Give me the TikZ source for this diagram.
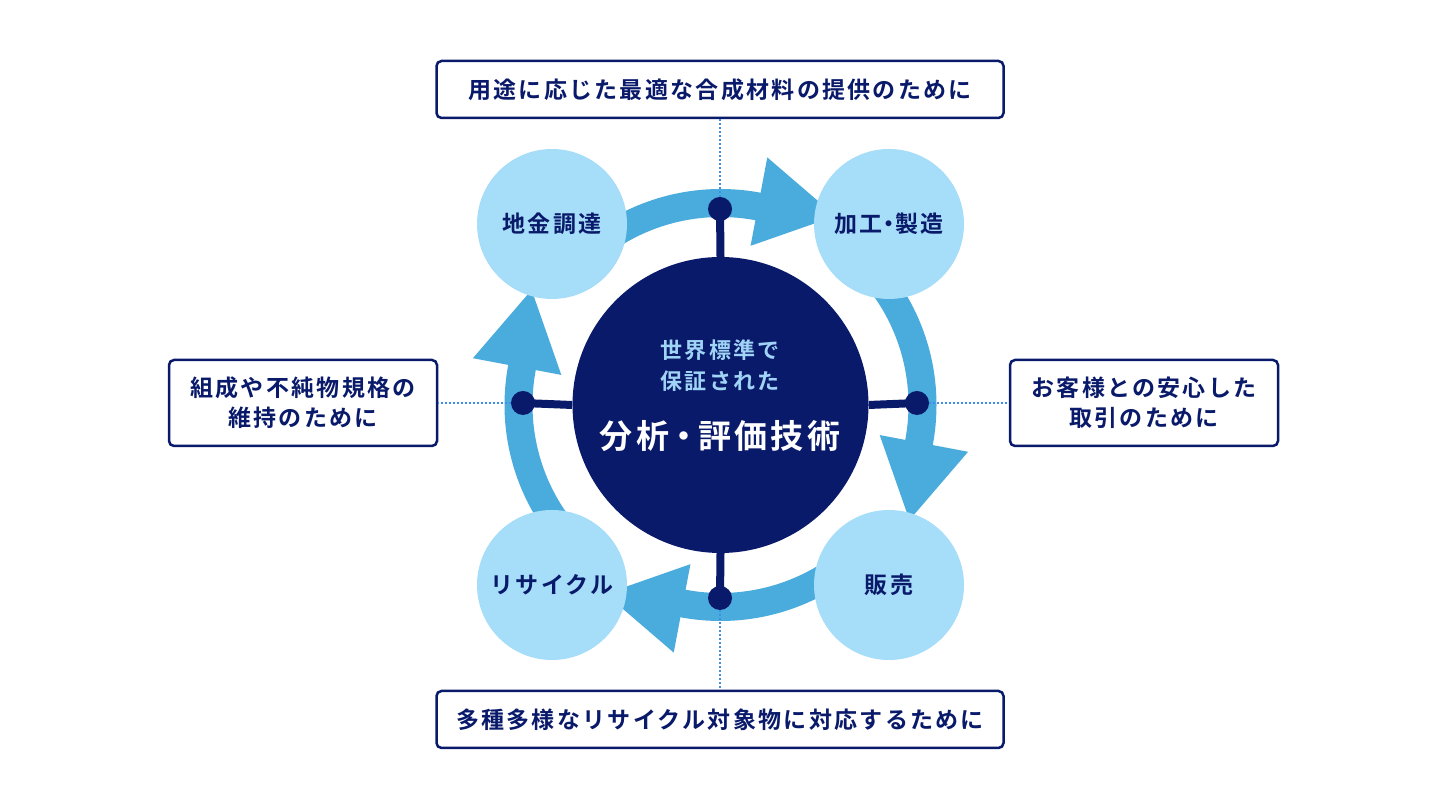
\documentclass[tikz,border=0pt]{standalone}
\usepackage{fontspec}
\newfontfamily\jpfont{Noto Sans CJK JP Bold}[LetterSpace=10]
\usetikzlibrary{arrows.meta, positioning, calc}
\definecolor{navy}{HTML}{0A1A6A}
\definecolor{ringblue}{HTML}{4AABDD}
\definecolor{paleblue}{HTML}{A6DDF9}
\definecolor{dotblue}{HTML}{3D8EE6}
\definecolor{subtext}{HTML}{9FD4F6}

\begin{document}
\begin{tikzpicture}[
  x=1pt, y=1pt,
  every node/.style={font=\jpfont\fontsize{23}{30}\selectfont, text=navy, align=center},
  corenode/.style={circle, fill=navy, minimum size=296pt, inner sep=0pt},
  phasenode/.style={circle, fill=paleblue, minimum size=150pt, inner sep=0pt},
  notebox/.style={rectangle, draw=navy, line width=2.5pt, rounded corners=5pt, fill=white, inner sep=0pt},
  hubdot/.style={circle, fill=navy, minimum size=24pt, inner sep=0pt},
  ringarc/.style={ringblue, line width=28pt},
  stem/.style={navy, line width=8pt},
  dotline/.style={dotblue, line width=2pt, dash pattern=on 2pt off 2pt}
]
\useasboundingbox (0,0) rectangle (1440,810);

% Ring arrows
\coordinate (mid) at (720.5,405);
\foreach \a in {0,90,180,270}{
  \draw[ringarc] ($(mid)+(132-\a:202)$) arc[start angle=132-\a, end angle=78-\a, radius=202];
  \fill[ringblue] ($(mid)+(79.3-\a:252)$) -- ($(mid)+(79.3-\a:162)$)
    -- ($(mid)+(79.3-\a:207)+(-10.7-\a:78)$) -- cycle;
}

% Nodes
\node[corenode] (core) at (mid) {};
\node[text=subtext, font=\jpfont\fontsize{22}{31}\selectfont] (coresub) at (720,444.5) {世界標準で\\保証された};
\node[text=white, font=\jpfont\fontsize{33}{36}\selectfont] (coremain) at (720,374) {分析\kern-2pt・\kern-2pt評価技術};

\node[phasenode] (procure) at (552,586) {地金調達};
\node[phasenode] (process) at (889,586) {加工\kern-5pt・\kern-5pt製造};
\node[phasenode] (sales)   at (889,225) {販売};
\node[phasenode] (recycle) at (552,225) {リサイクル};

\node[hubdot] (topdot)   at (720,601) {};
\node[hubdot] (rightdot) at (917,407) {};
\node[hubdot] (botdot)   at (720,212) {};
\node[hubdot] (leftdot)  at (523,407) {};

\node[notebox, minimum width=567pt, minimum height=57pt] (topnote) at (720,720.5) {用途に応じた最適な合成材料の提供のために};
\node[notebox, minimum width=567pt, minimum height=57pt] (botnote) at (720,90.5) {多種多様なリサイクル対象物に対応するために};
\node[notebox, minimum width=268pt, minimum height=86pt] (leftnote) at (303,407) {組成や不純物規格の\\維持のために};
\node[notebox, minimum width=268pt, minimum height=86pt] (rightnote) at (1144,407) {お客様との安心した\\取引のために};

% Edges
\draw[stem] (core.north) -- (topdot.center);
\draw[stem] (core.east) -- (rightdot.center);
\draw[stem] (core.south) -- (botdot.center);
\draw[stem] (core.west) -- (leftdot.center);

\draw[dotline] (topdot) -- (topnote.south);
\draw[dotline] (rightdot) -- (rightnote.west);
\draw[dotline] (botdot) -- (botnote.north);
\draw[dotline] (leftdot) -- (leftnote.east);

\end{tikzpicture}
\end{document}
